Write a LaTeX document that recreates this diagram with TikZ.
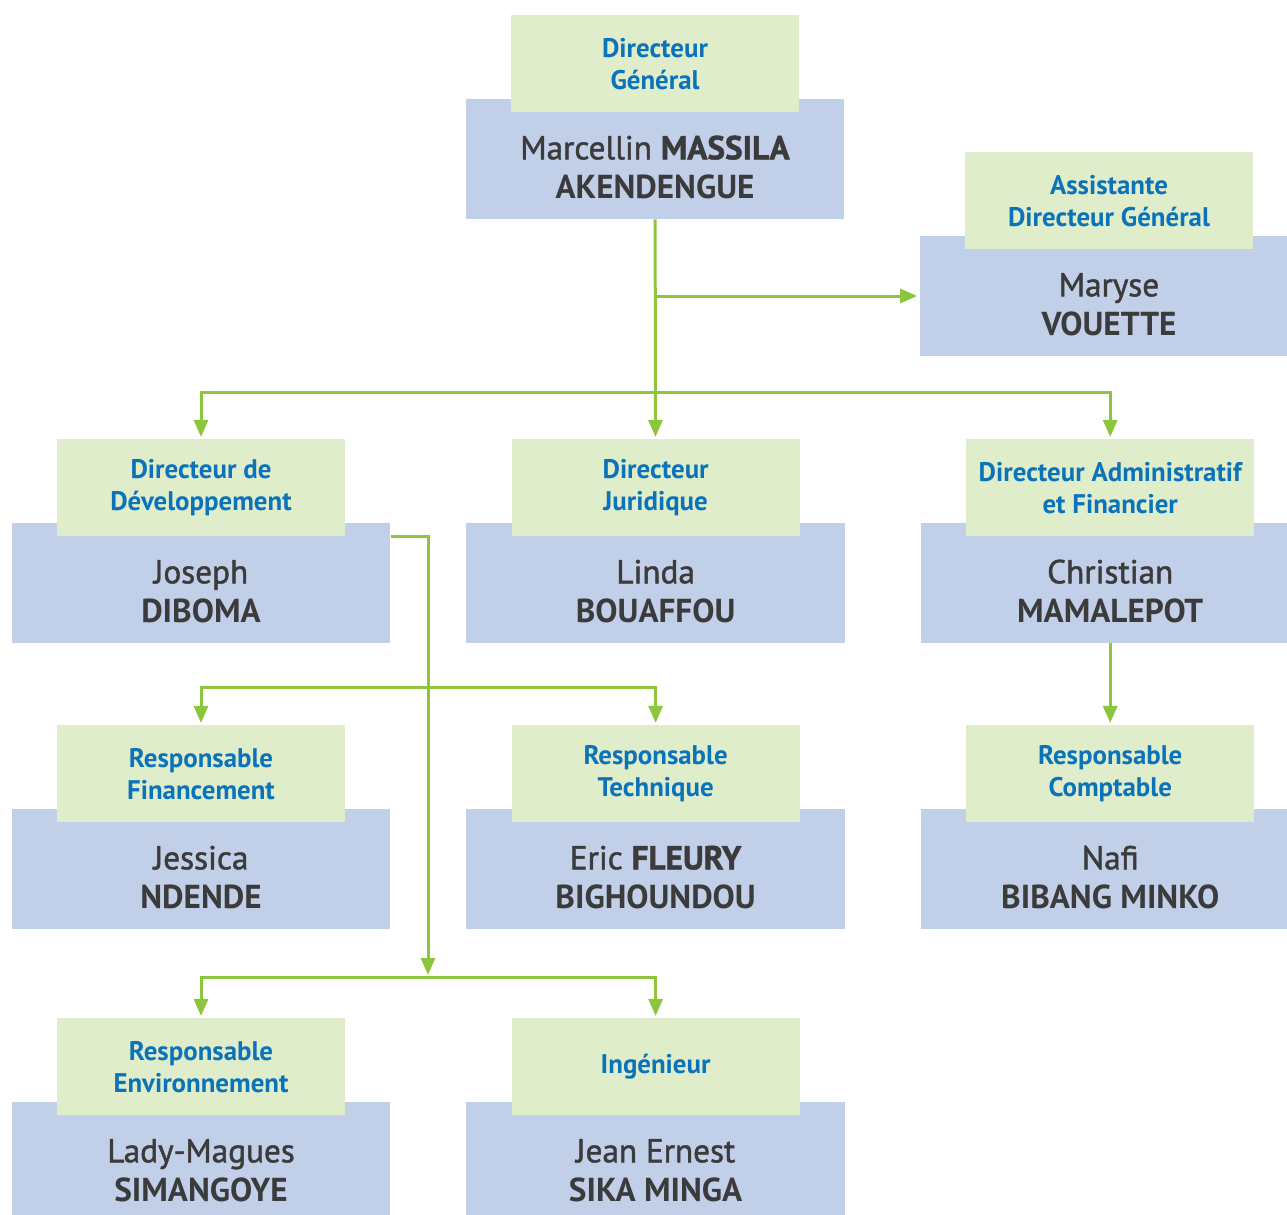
\documentclass[tikz,border=0pt]{standalone}
\usepackage{fontspec}
\setmainfont{PT Sans}
\newfontfamily\semifont[FakeBold=1.4]{PT Sans}
\usetikzlibrary{positioning, arrows.meta}

\definecolor{rolefill}{HTML}{E0EDCA}
\definecolor{namefill}{HTML}{C2CFE8}
\definecolor{roletext}{HTML}{0B73B9}
\definecolor{nametext}{HTML}{3B3B3B}
\definecolor{linkgreen}{HTML}{8CC63F}

% two lines, the second one bold, set a little low in the box
\newcommand{\pname}[2]{\raisebox{-0.24cm}[\height][\depth]{\begin{tabular}{@{}c@{}}{\semifont #1}\\\textbf{#2}\end{tabular}}}

\begin{document}
\begin{tikzpicture}
[
	x=0.02cm, y=-0.02cm,
	node distance = 1.5cm,
	namebox/.style={rectangle, fill=namefill, minimum width=7.58cm, minimum height=2.4cm, inner sep=0pt, text=nametext, font=\fontsize{18.9}{22.2}\selectfont},
	rolebox/.style={rectangle, fill=rolefill, minimum width=5.76cm, minimum height=1.94cm, inner sep=0pt, align=center, text=roletext, font=\fontsize{15.3}{18.2}\selectfont\bfseries, above=-0.28cm of #1},
	link/.style={draw=linkgreen, line width=0.06cm, -{Triangle[width=0.28cm, length=0.34cm]}, shorten >=0.04cm}
  ]
	\useasboundingbox (0,0) rectangle (1287,1214);

	\node[namebox] (DG) at (655,159) {\pname{Marcellin \textbf{MASSILA}}{AKENDENGUE}};
	\node[namebox] (AS) at (1109,296) {\pname{Maryse}{VOUETTE}};

	\node[namebox] (DD) at (201,583) {\pname{Joseph}{DIBOMA}};
	\node[namebox, right=of DD] (DJ) {\pname{Linda}{BOUAFFOU}};
	\node[namebox, right=of DJ] (DAF) {\pname{Christian}{MAMALEPOT}};

	\node[namebox] (RF) at (201,869) {\pname{Jessica}{NDENDE}};
	\node[namebox, right=of RF] (RT) {\pname{Eric \textbf{FLEURY}}{BIGHOUNDOU}};
	\node[namebox, right=of RT] (RC) {\pname{Nafi}{BIBANG MINKO}};

	\node[namebox] (RE) at (201,1162) {\pname{Lady-Magues}{SIMANGOYE}};
	\node[namebox, right=of RE] (IN) {\pname{Jean Ernest}{SIKA MINGA}};

	\node[rolebox=DG] (DGt) {Directeur\\Général};
	\node[rolebox=AS] (ASt) {Assistante\\Directeur Général};
	\node[rolebox=DD] (DDt) {Directeur de\\Développement};
	\node[rolebox=DJ] (DJt) {Directeur\\Juridique};
	\node[rolebox=DAF] (DAFt) {Directeur Administratif\\et Financier};
	\node[rolebox=RF] (RFt) {Responsable\\Financement};
	\node[rolebox=RT] (RTt) {Responsable\\Technique};
	\node[rolebox=RC] (RCt) {Responsable\\Comptable};
	\node[rolebox=RE] (REt) {Responsable\\Environnement};
	\node[rolebox=IN] (INt) {Ingénieur};

	\coordinate (split1) at (655,392);
	\coordinate (split2) at (428,687);
	\coordinate (split3) at (428,977);

	\draw[link] (DG) -- (DJt);
	\draw[link] (DG.south |- AS.west) -- (AS);
	\draw[link] (split1) -| (DDt);
	\draw[link] (split1) -| (DAFt);

	\draw[link] (DD.east |- DDt.south) -| (split3);
	\draw[link] (split2) -| (RFt);
	\draw[link] (split2) -| (RTt);
	\draw[link] (split3) -| (REt);
	\draw[link] (split3) -| (INt);

	\draw[link] (DAF) -- (RCt);
\end{tikzpicture}
\end{document}
